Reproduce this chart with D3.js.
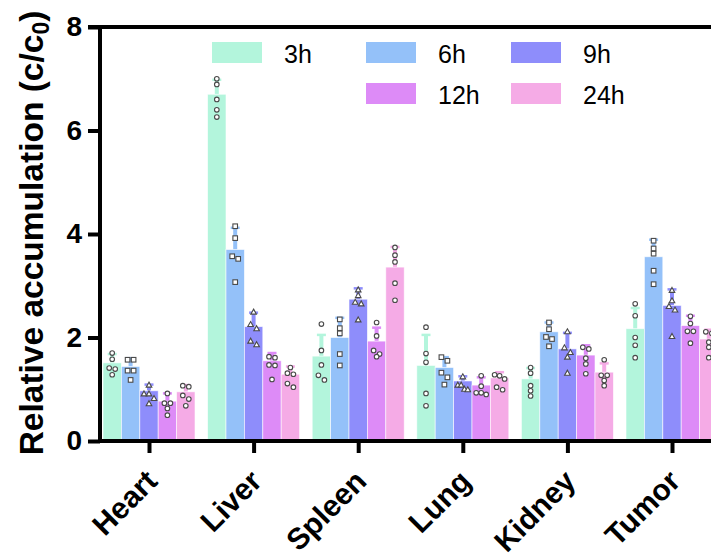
<!DOCTYPE html>
<html>
<head>
<meta charset="utf-8">
<script src="https://cdn.jsdelivr.net/npm/d3@7"></script>
<style>
  body { margin: 0; background: #fff; }
  svg { display: block; font-family: "Liberation Sans", Arial, sans-serif; }
</style>
</head>
<body>
<div id="chart"></div>
<script>
// categories and series
const organs = ["Heart", "Liver", "Spleen", "Lung", "Kidney", "Tumor"];
const times = ["3h", "6h", "9h", "12h", "24h"];

// bar heights (mean) per time point, in organ order
const mean3h  = [1.51, 6.70, 1.64, 1.46, 1.20, 2.17];
const mean6h  = [1.44, 3.70, 2.00, 1.42, 2.11, 3.56];
const mean9h  = [0.97, 2.21, 2.74, 1.16, 1.78, 2.62];
const mean12h = [0.77, 1.55, 1.93, 1.08, 1.66, 2.23];
const mean24h = [0.95, 1.29, 3.36, 1.22, 1.33, 1.97];

// error (SD), upper whisker only is visible
const sd3h  = [0.17, 0.28, 0.41, 0.59, 0.21, 0.40];
const sd6h  = [0.16, 0.42, 0.38, 0.20, 0.18, 0.33];
const sd9h  = [0.12, 0.27, 0.21, 0.09, 0.31, 0.31];
const sd12h = [0.15, 0.15, 0.26, 0.15, 0.19, 0.19];
const sd24h = [0.13, 0.15, 0.39, 0.11, 0.17, 0.18];

// individual replicates
const pts3h = [
  [1.70, 1.58, 1.41, 1.39, 1.28],
  [7.00, 6.89, 6.60, 6.40, 6.26],
  [2.26, 1.75, 1.47, 1.27, 1.18],
  [2.20, 1.69, 1.52, 0.92, 0.68],
  [1.42, 1.31, 1.07, 0.97, 0.87],
  [2.65, 2.42, 2.00, 1.85, 1.61]
];
const pts6h = [
  [1.57, 1.57, 1.36, 1.36, 1.18],
  [4.15, 3.92, 3.57, 3.52, 3.07],
  [2.35, 2.18, 2.08, 1.68, 1.46],
  [1.62, 1.55, 1.32, 1.23, 1.09],
  [2.29, 2.16, 2.01, 1.97, 1.83],
  [3.87, 3.72, 3.62, 3.29, 3.03]
];
const pts9h = [
  [1.08, 0.91, 0.91, 0.82, 0.72],
  [2.49, 2.25, 2.17, 1.93, 1.86],
  [2.92, 2.81, 2.68, 2.65, 2.34],
  [1.24, 1.08, 1.08, 1.00, 0.99],
  [2.11, 1.80, 1.71, 1.62, 1.31],
  [2.91, 2.71, 2.60, 2.53, 2.02]
];
const pts12h = [
  [0.92, 0.73, 0.73, 0.63, 0.50],
  [1.63, 1.61, 1.47, 1.46, 1.19],
  [2.29, 2.03, 1.75, 1.68, 1.63],
  [1.26, 1.06, 0.93, 0.93, 0.90],
  [1.81, 1.78, 1.60, 1.49, 1.30],
  [2.41, 2.27, 2.12, 2.12, 1.89]
];
const pts24h = [
  [1.07, 1.05, 0.88, 0.81, 0.68],
  [1.42, 1.31, 1.29, 1.11, 1.04],
  [3.74, 3.59, 3.46, 3.05, 2.72],
  [1.28, 1.26, 1.20, 1.04, 0.99],
  [1.57, 1.27, 1.27, 1.17, 1.07],
  [2.11, 2.08, 1.91, 1.81, 1.61]
];

const yTicks = [0, 2, 4, 6, 8];

const colors = ["#b3f5dc", "#94c1f9", "#8e8dfb", "#dd8bf7", "#f5abe6"];
const shapes = ["circle", "square", "triangle", "circle", "circle"];

const means = [mean3h, mean6h, mean9h, mean12h, mean24h];
const sds = [sd3h, sd6h, sd9h, sd12h, sd24h];
const pts = [pts3h, pts6h, pts9h, pts12h, pts24h];

// Set up canvas
const width = 711, height = 556;
const plotLeft = 100, plotTop = 27, plotBottom = 441;

const svg = d3.select('#chart')
  .append('svg')
  .attr('width', width)
  .attr('height', height);

const y = d3.scaleLinear().domain([0, 8]).range([plotBottom, plotTop]);

// organ centres, then bars inside each group
const x0 = d3.scalePoint().domain(organs).range([149, 672]);
const x1 = d3.scaleBand().domain(times).range([-46, 46]);

// bars, error bars, points
times.forEach((t, s) => {
  const g = svg.append('g');
  organs.forEach((o, i) => {
    const bx = x0(o) + x1(t), bw = x1.bandwidth();
    const cx = bx + bw / 2;
    const m = means[s][i], e = sds[s][i];

    g.append('line')
      .attr('x1', cx).attr('x2', cx)
      .attr('y1', y(m)).attr('y2', y(m + e))
      .attr('stroke', colors[s])
      .attr('stroke-width', 4);
    g.append('line')
      .attr('x1', cx - 4.5).attr('x2', cx + 4.5)
      .attr('y1', y(m + e)).attr('y2', y(m + e))
      .attr('stroke', colors[s])
      .attr('stroke-width', 2.5);

    g.append('rect')
      .attr('x', bx).attr('y', y(m))
      .attr('width', bw).attr('height', y(0) - y(m))
      .attr('fill', colors[s])
      .attr('stroke', '#fff')
      .attr('stroke-opacity', 0.7)
      .attr('stroke-width', 0.8);

    // spread out points that would overlap (clusters centred on the bar)
    const vals = pts[s][i].slice().sort((a, b) => b - a);
    const clusters = [];
    vals.forEach(v => {
      const last = clusters[clusters.length - 1];
      if (last && y(v) - y(last[0]) < 5) last.push(v);
      else clusters.push([v]);
    });
    clusters.forEach(c => {
      const step = c.length > 1 ? Math.min(6, 10 / (c.length - 1)) : 0;
      c.forEach((v, k) => {
        const px = cx + (k - (c.length - 1) / 2) * step;
        const py = y(v);
        let mark;
        if (shapes[s] === 'square') {
          mark = g.append('rect')
            .attr('x', px - 2.3).attr('y', py - 2.3)
            .attr('width', 4.6).attr('height', 4.6);
        } else if (shapes[s] === 'triangle') {
          mark = g.append('path')
            .attr('d', `M${px},${py - 3}L${px + 2.8},${py + 2}L${px - 2.8},${py + 2}Z`);
        } else {
          mark = g.append('circle')
            .attr('cx', px).attr('cy', py).attr('r', 2.3);
        }
        mark.attr('fill', '#fff')
          .attr('stroke', '#4a4a4a')
          .attr('stroke-width', 1.1);
      });
    });
  });
});

// Axes
const yAxis = svg.append('g')
  .attr('transform', `translate(${plotLeft}, 0)`)
  .call(d3.axisLeft(y).tickValues(yTicks).tickSize(12).tickPadding(6));
yAxis.select('.domain').remove();
yAxis.selectAll('.tick line').attr('stroke', '#000').attr('stroke-width', 4);
yAxis.selectAll('.tick text')
  .attr('font-size', 28).attr('font-weight', 'bold')
  .attr('font-family', '"Liberation Sans", Arial, sans-serif')
  .attr('fill', '#000');

const xAxis = svg.append('g')
  .attr('transform', `translate(0, ${plotBottom})`)
  .call(d3.axisBottom(x0).tickSize(12));
xAxis.select('.domain').remove();
xAxis.selectAll('.tick line').attr('stroke', '#000').attr('stroke-width', 4);
xAxis.selectAll('.tick text').remove();

// frame lines
svg.append('path')
  .attr('d', `M${plotLeft - 12},${plotTop}H${width}M${plotLeft},${plotTop}V${plotBottom}M${plotLeft - 2},${plotBottom}H${width}`)
  .attr('fill', 'none')
  .attr('stroke', '#000')
  .attr('stroke-width', 4);

// category labels, rotated
svg.append('g')
  .selectAll('text')
  .data(organs)
  .join('text')
  .attr('transform', d => `translate(${x0(d) + 10}, 483) rotate(-45)`)
  .attr('text-anchor', 'end')
  .attr('font-size', 30)
  .attr('font-weight', 'bold')
  .text(d => d);

// y label
const yl = svg.append('text')
  .attr('transform', `translate(43, 233) rotate(-90)`)
  .attr('text-anchor', 'middle')
  .attr('font-size', 33.5)
  .attr('font-weight', 'bold');
yl.append('tspan').text('Relative accumulation (c/c');
yl.append('tspan').attr('font-size', 23).attr('dy', 6).text('0');
yl.append('tspan').attr('dy', -6).text(')');

// Legend
const slots = [[212, 42], [366, 42], [511, 42], [366, 83], [511, 83]];
const legend = svg.append('g')
  .selectAll('g')
  .data(times)
  .join('g')
  .attr('transform', (d, i) => `translate(${slots[i][0]}, ${slots[i][1]})`);
legend.append('rect')
  .attr('width', 50).attr('height', 21)
  .attr('fill', (d, i) => colors[i]);
legend.append('text')
  .attr('x', 72).attr('y', 21)
  .attr('font-size', 25)
  .text(d => d);
</script>
</body>
</html>
